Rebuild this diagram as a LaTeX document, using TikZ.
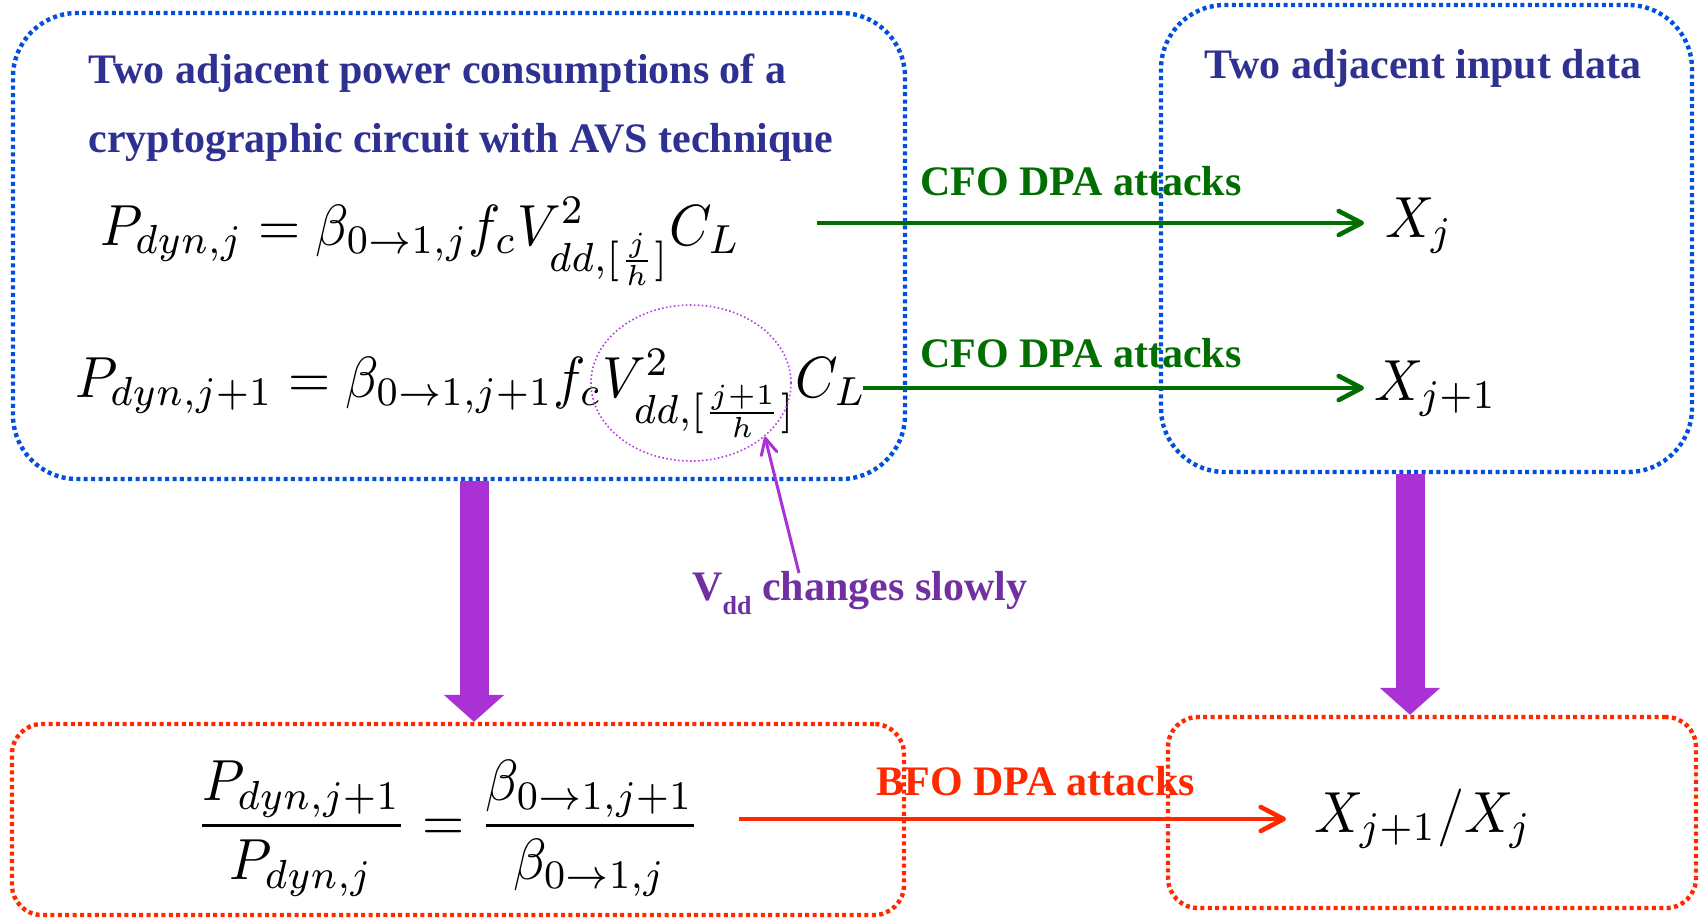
\documentclass[tikz,border=0pt]{standalone}
\usepackage{amsmath}
\usepackage[no-math]{fontspec}
\setmainfont{Liberation Serif}
\usepackage{graphicx}
\usetikzlibrary{arrows.meta,shapes.geometric,fit}

\definecolor{boxblue}{RGB}{0,80,220}
\definecolor{boxred}{RGB}{255,40,0}
\definecolor{titlenavy}{RGB}{46,49,146}
\definecolor{attgreen}{RGB}{0,110,0}
\definecolor{flowpurple}{RGB}{170,50,212}
\definecolor{notepurple}{RGB}{112,48,160}
\definecolor{ringpurple}{RGB}{185,60,225}

\newcommand{\mathbig}[1]{\scalebox{2.71}[2.9]{$#1$}}

\begin{document}
\begin{tikzpicture}[x=0.5pt,y=-0.5pt,
  bluebox/.style={draw=boxblue, line width=2.2pt, dash pattern=on 2pt off 1.7pt,
    rounded corners=32pt, inner sep=0pt},
  redbox/.style={draw=boxred, line width=2.2pt, dash pattern=on 2pt off 1.7pt,
    rounded corners=15pt, inner sep=0pt},
  headtext/.style={font=\fontsize{21}{25}\selectfont\bfseries, text=titlenavy,
    inner sep=0pt, anchor=base west},
  attack/.style={font=\fontsize{21}{25}\selectfont\bfseries, inner sep=0pt, anchor=base west},
  formula/.style={inner sep=0pt, anchor=base west},
  attackarrow/.style={line width=2.3pt, -{Straight Barb[length=11.5pt,width=12pt,round]}},
  flowarrow/.style={draw=flowpurple, line width=14.5pt, -{Triangle[length=13.5pt,width=29.5pt]}},
  notearrow/.style={draw=flowpurple, line width=1.5pt, -{Straight Barb[length=8pt,width=8pt,round]}}]

\useasboundingbox (0,0) rectangle (1700,917);

% dotted frames
\node[bluebox, fit={(13,13) (905,479)}] (power) {};
\node[bluebox, fit={(1161,5) (1692,472)}] (input) {};
\node[redbox, fit={(12,724) (904,915)}] (ratiobox) {};
\node[redbox, fit={(1168,717) (1696,908)}] (outbox) {};

% headings
\node[headtext] (h1a) at (88,83) {Two adjacent power consumptions of a};
\node[headtext] (h1b) at (88,152) {cryptographic circuit with AVS technique};
\node[headtext] (h2) at (1204,78) {Two adjacent input data};

% power equations
\node[formula] (f1) at (100,245)
  {\mathbig{P_{dyn,j} = \beta_{0\rightarrow 1,j} f_c V^2_{dd,[\frac{j}{h}]} C_L}};
\node[formula] (f2) at (75,397)
  {\mathbig{P_{dyn,j+1} = \beta_{0\rightarrow 1,j+1} f_c V^2_{dd,[\frac{j+1}{h}]} C_L}};
\node[inner sep=0pt, anchor=base] (f3) at (448,840)
  {\mathbig{\dfrac{P_{dyn,j+1}}{P_{dyn,j}} = \dfrac{\beta_{0\rightarrow 1,j+1}}{\beta_{0\rightarrow 1,j}}}};

% input data
\node[formula] (xj) at (1385,237) {\mathbig{X_j}};
\node[formula] (xj1) at (1374,400) {\mathbig{X_{j+1}}};
\node[formula] (ratio) at (1314,832) {\mathbig{X_{j+1}/X_j}};

% ring around the supply voltage term
\node[ellipse, draw=ringpurple, line width=0.8pt, dash pattern=on 0.8pt off 1.2pt,
  minimum width=100pt, minimum height=78pt, inner sep=0pt] (ring) at (691,383) {};

% attack labels
\node[attack, text=attgreen] (cfo1) at (920,195) {CFO DPA attacks};
\node[attack, text=attgreen] (cfo2) at (920,367) {CFO DPA attacks};
\node[attack, text=boxred] (bfo) at (876,795) {BFO DPA attacks};
\node[attack, text=notepurple] (vdd) at (692,600)
  {V\raisebox{-7pt}{\fontsize{13}{13}\selectfont dd} changes slowly};

% attack arrows
\coordinate (g1) at (817,223);
\coordinate (g2) at (863,388);
\coordinate (r1) at (739,819);
\draw[attackarrow, draw=attgreen, shorten >=10.5pt] (g1) -- (g1 -| xj.west);
\draw[attackarrow, draw=attgreen, shorten >=5pt] (g2) -- (g2 -| xj1.west);
\draw[attackarrow, draw=boxred, shorten >=14pt] (r1) -- (r1 -| ratio.west);

% note arrow
\coordinate (vs) at (799,573);
\draw[notearrow] (vs) -- (ring.-36);

% flow arrows
\coordinate (c1) at (474,0);
\coordinate (c2) at (1410,0);
\draw[flowarrow] (power.south -| c1) -- (ratiobox.north -| c1);
\draw[flowarrow] (input.south -| c2) -- (outbox.north -| c2);
\end{tikzpicture}
\end{document}
